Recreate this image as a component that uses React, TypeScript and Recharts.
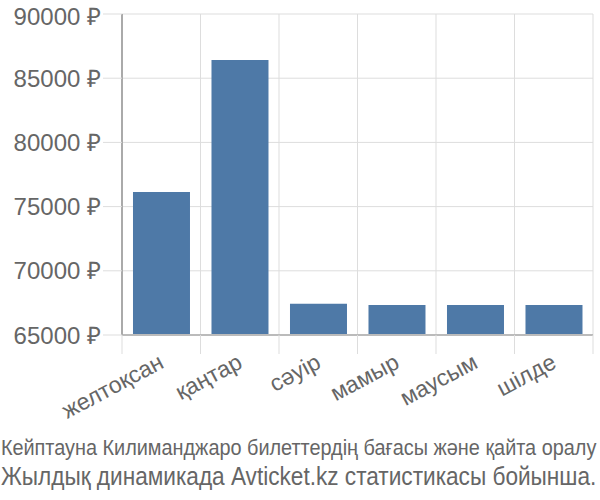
import { Bar, BarChart, CartesianGrid, XAxis, YAxis } from "recharts";

const months = ["желтоқсан", "қаңтар", "сәуір", "мамыр", "маусым", "шілде"];
const prices = [76140, 86420, 67440, 67340, 67340, 67340];
const yTicks = [65000, 70000, 75000, 80000, 85000, 90000];
const titleLines = [
  "Кейптауна Килиманджаро билеттердің бағасы және қайта оралу",
  "Жылдық динамикада Avticket.kz статистикасы бойынша.",
];

const data = months.map((m, i) => ({ month: m, price: prices[i] }));

const FONT = "'Liberation Sans', Arial, sans-serif";

function MonthTick(props: any) {
  const { x, y, payload, index, visibleTicksCount } = props;
  const half = payload.offset || 0;
  const last = index === visibleTicksCount - 1;
  return (
    <g>
      <line x1={x - half} x2={x - half} y1={y - 8} y2={y + 11} stroke="#ddd" />
      {last && <line x1={x + half} x2={x + half} y1={y - 8} y2={y + 11} stroke="#ddd" />}
      <text
        x={x + 4}
        y={y + 24}
        textAnchor="end"
        fill="#666"
        fontSize={23}
        fontFamily={FONT}
        transform={`rotate(-28 ${x + 4} ${y + 24})`}
      >
        {payload.value}
      </text>
    </g>
  );
}

export default function App() {
  return (
    <div style={{ position: "absolute", left: 0, top: 0, width: 600, height: 500, background: "#fff" }}>
      <BarChart
        width={600}
        height={500}
        data={data}
        margin={{ top: 14, right: 7, left: 0, bottom: 105 }}
        barCategoryGap="14%"
      >
        <CartesianGrid
          stroke="#ddd"
          verticalCoordinatesGenerator={({ offset }: any) =>
            months.map((_, i) => offset.left + (i * offset.width) / months.length).concat(offset.left + offset.width)
          }
        />
        <XAxis
          dataKey="month"
          height={60}
          interval={0}
          tickLine={false}
          axisLine={{ stroke: "#bbb", strokeWidth: 2 }}
          tick={<MonthTick />}
        />
        <YAxis
          width={122}
          domain={[65000, 90000]}
          ticks={yTicks}
          allowDataOverflow
          tickSize={19}
          tickLine={{ stroke: "#ddd" }}
          axisLine={{ stroke: "#aaa", strokeWidth: 2 }}
          tickFormatter={(v: number) => `${v} ₽`}
          tick={{ fill: "#666", fontSize: 24, fontFamily: FONT }}
        />
        <Bar dataKey="price" fill="#4e79a7" isAnimationActive={false} />
      </BarChart>
      <svg width={600} height={70} style={{ position: "absolute", left: 0, top: 430 }}>
        <g transform="scale(0.903 1)">
          <text x={1} y={25} fill="#666" fontSize={22} fontFamily={FONT}>
            {titleLines[0]}
          </text>
        </g>
        <g transform="scale(0.905 1)">
          <text x={1} y={55} fill="#666" fontSize={25} fontFamily={FONT}>
            {titleLines[1]}
          </text>
        </g>
      </svg>
    </div>
  );
}
